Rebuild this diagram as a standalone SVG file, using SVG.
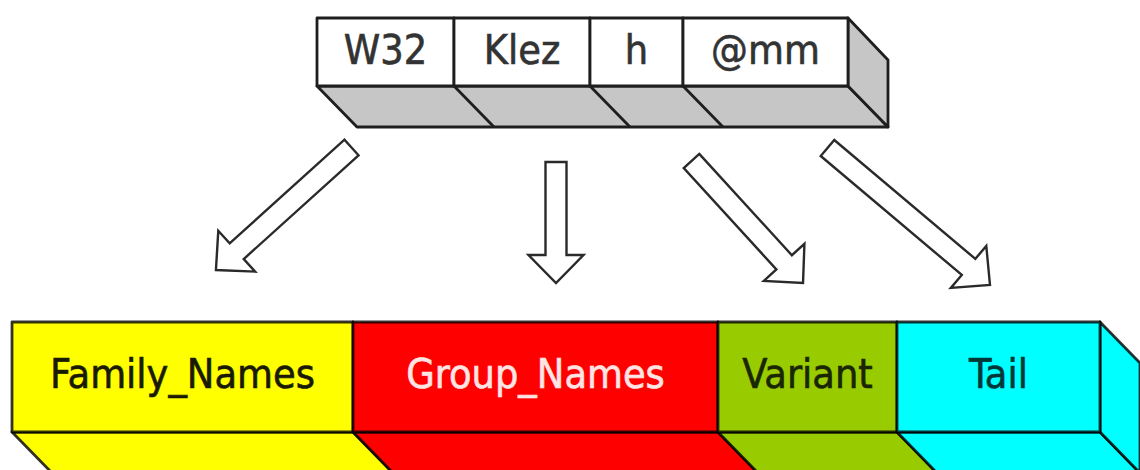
<svg xmlns="http://www.w3.org/2000/svg" width="1140" height="470" viewBox="0 0 1140 470">
  <style>
    .lbl { font-family: "DejaVu Sans Condensed", "DejaVu Sans", "Liberation Sans", sans-serif; font-size: 41px; text-anchor: middle; stroke-width: 0.6; }
    .top { fill: #333333; stroke: #333333; }
    .box { fill: #ffffff; stroke: #1e1e1e; stroke-width: 2.8; stroke-linejoin: round; }
    .shade { fill: #c6c6c6; stroke: #1e1e1e; stroke-width: 2.8; stroke-linejoin: round; }
    .seg { stroke: #000000; stroke-opacity: 0.8; stroke-width: 2.8; stroke-linejoin: round; }
    .arrow { fill: #ffffff; stroke: #2a2a2a; stroke-width: 2.4; stroke-linejoin: miter; }
  </style>
  <rect x="0" y="0" width="1140" height="470" fill="#ffffff"/>

  <g id="top-word">
    <polygon class="shade" points="317,86 848,86 888,127 357,127"/>
    <polygon class="shade" points="848,18 888,60 888,127 848,86"/>
    <line class="shade" x1="454" y1="86" x2="494" y2="127"/>
    <line class="shade" x1="590" y1="86" x2="630" y2="127"/>
    <line class="shade" x1="683" y1="86" x2="723" y2="127"/>
    <g id="w32">
      <rect class="box" x="317" y="18" width="137" height="68"/>
      <text class="lbl top" x="385.5" y="64">W32</text>
    </g>
    <g id="klez">
      <rect class="box" x="454" y="18" width="136" height="68"/>
      <text class="lbl top" x="522" y="64">Klez</text>
    </g>
    <g id="h">
      <rect class="box" x="590" y="18" width="93" height="68"/>
      <text class="lbl top" x="636.5" y="64">h</text>
    </g>
    <g id="mm">
      <rect class="box" x="683" y="18" width="165" height="68"/>
      <text class="lbl top" x="765.5" y="64">@mm</text>
    </g>
  </g>

  <g id="connectors">
    <polygon class="arrow" transform="translate(351.5,147.5) rotate(137.9)" points="0,-10.5 154.7,-10.5 154.7,-27.5 182.7,0 154.7,27.5 154.7,10.5 0,10.5"/>
    <polygon class="arrow" transform="translate(556,162) rotate(90)" points="0,-10.5 93,-10.5 93,-27.5 121,0 93,27.5 93,10.5 0,10.5"/>
    <polygon class="arrow" transform="translate(691.5,161) rotate(47.57)" points="0,-10.5 137.3,-10.5 137.3,-27.5 165.3,0 137.3,27.5 137.3,10.5 0,10.5"/>
    <polygon class="arrow" transform="translate(827.5,148) rotate(40.13)" points="0,-10.5 184.5,-10.5 184.5,-27.5 212.5,0 184.5,27.5 184.5,10.5 0,10.5"/>
  </g>

  <g id="family-names">
    <polygon class="seg" fill="#ffff00" points="12,432 353,432 393,473 52,473"/>
    <rect class="seg" fill="#ffff00" x="12" y="322" width="341" height="110"/>
    <text class="lbl" fill="#1a1a00" stroke="#1a1a00" x="182.5" y="388">Family_Names</text>
  </g>
  <g id="group-names">
    <polygon class="seg" fill="#ff0000" points="353,432 718,432 758,473 393,473"/>
    <rect class="seg" fill="#ff0000" x="353" y="322" width="365" height="110"/>
    <text class="lbl" fill="#ffe4e4" stroke="#ffe4e4" x="535.5" y="388">Group_Names</text>
  </g>
  <g id="variant">
    <polygon class="seg" fill="#99cc00" points="718,432 897,432 937,473 758,473"/>
    <rect class="seg" fill="#99cc00" x="718" y="322" width="179" height="110"/>
    <text class="lbl" fill="#1a2600" stroke="#1a2600" x="807.5" y="388">Variant</text>
  </g>
  <g id="tail">
    <polygon class="seg" fill="#00ffff" points="897,432 1100,432 1140,473 937,473"/>
    <polygon class="seg" fill="#00ffff" points="1100,322 1140,363 1140,473 1100,432"/>
    <rect class="seg" fill="#00ffff" x="897" y="322" width="203" height="110"/>
    <text class="lbl" fill="#003838" stroke="#003838" x="998.5" y="388">Tail</text>
  </g>
</svg>
